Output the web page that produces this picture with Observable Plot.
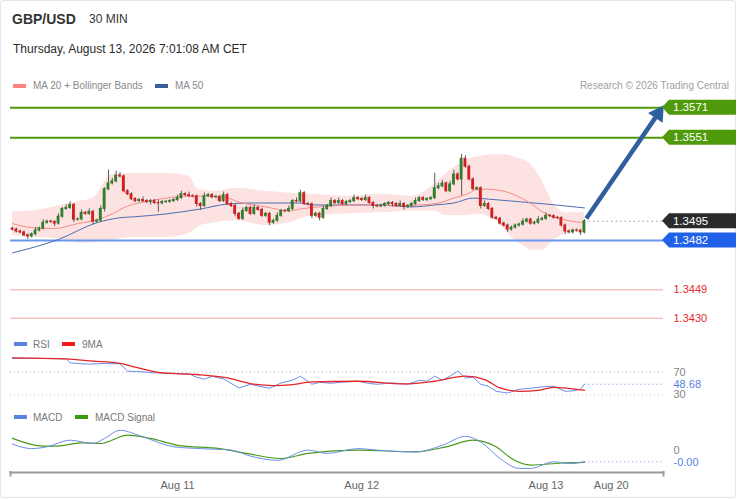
<!DOCTYPE html>
<html><head><meta charset="utf-8">
<script src="https://cdn.jsdelivr.net/npm/d3@7"></script>
<script src="https://cdn.jsdelivr.net/npm/@observablehq/plot@0.6"></script>
<style>
body{margin:0;background:#fff;font-family:"Liberation Sans",Arial,sans-serif;}
#wrap{position:relative;width:738px;height:500px;overflow:hidden;background:#fff;}
#card{position:absolute;left:0;top:0;width:734px;height:496px;border:1px solid #e1e6ea;border-radius:3px;}
.t{position:absolute;white-space:nowrap;line-height:1;}
.sw{position:absolute;width:13px;height:4px;}
.p{position:absolute;left:0;}
</style></head>
<body><div id="wrap"><div id="card"></div>
<div class="t" style="left:12px;top:12px;font-size:14px;font-weight:bold;color:#333">GBP/USD</div>
<div class="t" style="left:89px;top:13px;font-size:12px;color:#333">30 MIN</div>
<div class="t" style="left:13px;top:43px;font-size:12px;color:#2a2a2a">Thursday, August 13, 2026 7:01:08 AM CET</div>
<div class="sw" style="left:13px;top:84px;background:#ff8282"></div>
<div class="t" style="left:33px;top:81px;font-size:10px;color:#8a8a8a">MA 20 + Bollinger Bands</div>
<div class="sw" style="left:155px;top:84px;background:#3a5d9c"></div>
<div class="t" style="left:175px;top:81px;font-size:10px;color:#8a8a8a">MA 50</div>
<div class="t" style="right:9px;top:81px;font-size:10px;color:#a0a0a0">Research © 2026 Trading Central</div>
<div class="sw" style="left:14px;top:342px;background:#5b83e6"></div>
<div class="t" style="left:33px;top:340px;font-size:10px;color:#777">RSI</div>
<div class="sw" style="left:62px;top:342px;background:#ee1c1c"></div>
<div class="t" style="left:82px;top:340px;font-size:10px;color:#777">9MA</div>
<div class="sw" style="left:14px;top:415px;background:#5b83e6"></div>
<div class="t" style="left:33px;top:413px;font-size:10px;color:#777">MACD</div>
<div class="sw" style="left:75px;top:415px;background:#3d9a0a"></div>
<div class="t" style="left:95px;top:413px;font-size:10px;color:#777">MACD Signal</div>
<div id="price" class="p" style="top:95px"></div>
<div id="rsi" class="p" style="top:335px"></div>
<div id="macd" class="p" style="top:405px"></div>
</div>
<script>
// ---- data (30-min candles, Aug 10 02:30 .. Aug 13 05:00) ----
const firstOpen = 1.34900;
const closes = [
1.34894,1.34881,1.34875,1.34855,1.34848,1.34862,1.34888,1.34901,1.34940,1.34947,
1.34945,1.34934,1.34980,1.35032,1.35039,1.35059,1.34960,1.34962,1.35006,1.34999,
1.35013,1.34947,1.34953,1.35032,1.35164,1.35203,1.35217,1.35256,1.35250,1.35151,
1.35131,1.35098,1.35085,1.35092,1.35085,1.35078,1.35085,1.35072,1.35070,1.35078,
1.35080,1.35085,1.35092,1.35105,1.35131,1.35125,1.35118,1.35116,1.35065,1.35052,
1.35118,1.35125,1.35111,1.35113,1.35085,1.35125,1.35065,1.35052,1.34999,1.34966,
1.35019,1.35039,1.34999,1.35039,1.35026,1.34986,1.34999,1.34940,1.34953,1.34986,
1.35019,1.35017,1.35032,1.35085,1.35083,1.35138,1.35065,1.35063,1.34986,1.34999,
1.34973,1.35032,1.35052,1.35085,1.35072,1.35085,1.35065,1.35078,1.35085,1.35105,
1.35098,1.35092,1.35105,1.35072,1.35052,1.35050,1.35054,1.35065,1.35072,1.35065,
1.35052,1.35065,1.35045,1.35052,1.35065,1.35085,1.35105,1.35092,1.35098,1.35105,
1.35171,1.35184,1.35203,1.35151,1.35197,1.35263,1.35230,1.35368,1.35315,1.35230,
1.35164,1.35171,1.35052,1.35065,1.35032,1.34973,1.34966,1.34934,1.34921,1.34894,
1.34907,1.34921,1.34927,1.34947,1.34960,1.34934,1.34940,1.34960,1.34966,1.34986,
1.34984,1.34973,1.34971,1.34921,1.34881,1.34875,1.34888,1.34886,1.34875,1.34950];
// wick lengths beyond the body, in pips
const wickUp = [
1,1,1,1,1,1,2,1,2,1, 1,1,2,1,2,2,1,1,2,1, 2,1,1,2,1,9,2,3,2,1, 1,1,1,1,2,1,1,1,2,1,
1,1,1,2,2,1,2,1,1,1, 2,1,1,1,1,2,1,1,1,1, 2,1,1,2,1,1,1,1,1,2, 1,1,2,1,2,2,1,1,1,1,
1,2,1,2,1,2,1,1,1,2, 1,1,2,1,1,1,1,1,1,1, 1,2,1,1,1,2,1,1,1,1, 10,2,2,1,2,3,1,3,2,1,
1,1,1,2,1,1,1,1,1,1, 1,1,1,2,1,1,1,2,1,2, 1,1,1,1,1,1,1,1,1,1];
const wickDn = [
1,1,1,1,2,1,1,1,1,1, 1,2,1,1,1,1,2,1,1,1, 1,2,1,1,2,1,1,1,1,1, 1,1,1,1,1,1,2,1,6,1,
1,1,1,1,1,1,1,1,2,3, 1,1,1,1,1,1,1,1,2,1, 1,1,1,1,1,1,1,2,1,1, 1,1,1,1,1,1,1,1,2,1,
2,1,1,1,1,1,1,1,1,1, 1,1,1,1,2,1,1,1,1,2, 1,1,2,1,1,1,1,1,1,1, 1,1,1,1,1,1,1,11,1,1,
1,1,2,1,1,1,1,1,1,2, 1,1,1,1,1,1,1,1,1,1, 1,1,1,1,2,1,1,1,2,1];

const ma20Idx = [0,5,11,17,22,26,30,33,40,46,51,56,59,66,72,75,83,91,100,106,111,115,119,121,124,129,134,139,145,149];
const ma20Val = [1.34934,1.34907,1.34901,1.34934,1.34960,1.34999,1.35052,1.35072,1.35105,1.35118,1.35118,1.35105,1.35078,1.35046,1.35019,1.35032,1.35052,1.35059,1.35052,1.35059,1.35072,1.35105,1.35138,1.35164,1.35164,1.35144,1.35085,1.34999,1.34953,1.34940];
const ma50Idx = [0,12,22,28,32,40,49,56,62,75,78,87,96,104,110,115,120,124,130,139,149];
const ma50Val = [1.34738,1.34828,1.34940,1.34973,1.34980,1.34999,1.35032,1.35065,1.35072,1.35072,1.35059,1.35059,1.35059,1.35046,1.35059,1.35072,1.35105,1.35098,1.35085,1.35065,1.35039];
const bbIdx = [0,5,10,14,18,21,26,32,40,46,48,49,53,58,66,72,78,87,96,104,110,113,117,119,122,124,126,129,130,134,135,138,141,144,145,149];
const bbUpper = [1.35013,1.35019,1.35040,1.35065,1.35085,1.35105,1.35263,1.35269,1.35269,1.35250,1.35171,1.35160,1.35151,1.35171,1.35151,1.35138,1.35131,1.35118,1.35131,1.35118,1.35197,1.35269,1.35340,1.35368,1.35385,1.35394,1.35396,1.35394,1.35385,1.35348,1.35330,1.35217,1.35065,1.35006,1.35006,1.35006];
const bbLower = [1.34855,1.34845,1.34835,1.34820,1.34802,1.34805,1.34822,1.34842,1.34842,1.34868,1.34905,1.34921,1.34940,1.34953,1.34921,1.34940,1.34986,1.34999,1.35006,1.35019,1.35019,1.34986,1.34986,1.34990,1.34999,1.34980,1.34953,1.34870,1.34842,1.34770,1.34756,1.34756,1.34822,1.34865,1.34875,1.34888];

const resistances = [1.3571, 1.3551];
const pivot = 1.3482;
const supports = [1.3449, 1.3430];
const target = 1.3571;

const rsiIdx = [0,6,14,15,18,20,24,28,30,34,37,42,46,48,50,52,55,59,62,65,67,70,73,75,78,80,83,86,90,93,95,99,103,106,108,110,112,114,116,118,120,122,124,126,129,132,135,138,141,144,146,148,149];
const rsiVal = [94.4,94.5,93.6,86.5,85,84.2,85.5,84.8,71.8,70.5,68.8,68,67,61,57.6,62.9,58,42.1,48.7,44,41.6,51,56,62.9,48.7,52,50.4,52.5,54,50,48.7,51,48.7,55.8,54,62.9,55.8,63,71.8,59.9,61,48.7,45,36.2,33.2,39.8,41.6,44,45.1,36.2,37,39.8,48.68];
const rsiMaIdx = [0,14,21,28,32,39,48,56,62,68,73,78,90,102,110,118,123,127,132,137,141,149];
const rsiMaVal = [95.4,93.6,89.6,85.5,78.9,68.8,65.9,59.9,49.9,46.4,48.1,52.8,54,49.2,54,62.9,57,42.1,36.2,38,43.3,38];
const rsiLevels = [70, 30];

const macdIdx = [0,5,9,15,21,24,28,34,42,49,57,62,69,77,82,90,95,105,112,118,122,127,132,135,141,145,149];
const macdVal = [0.00027,0.00012,0.00018,0.00040,0.00029,0.00046,0.00073,0.00051,0.00018,0.00012,0.00007,-0.00013,-0.00027,0.00007,-0.00004,0.00012,0.00007,0.00001,0.00023,0.00053,0.00034,-0.00021,-0.00054,-0.00054,-0.00032,-0.00038,-0.00032];
const sigIdx = [0,8,11,18,23,30,36,43,54,61,70,77,90,105,113,120,126,130,135,143,149];
const sigVal = [0.00046,0.00020,0.00020,0.00031,0.00029,0.00057,0.00046,0.00023,0.00012,-0.00004,-0.00021,-0.00004,0.00007,0.00001,0.00018,0.00040,0.00018,-0.00021,-0.00043,-0.00036,-0.00034];

const tickIdx = [43, 91, 139, 156];
const tickLabels = ["Aug 11", "Aug 12", "Aug 13", "Aug 20"];
const xDomain = [-0.52, 169.6];

// ---- tables ----
const candles = closes.map((c, i) => {
  const o = i ? closes[i - 1] : firstOpen;
  return {i, o, c, h: Math.max(o, c) + wickUp[i] * 1e-4, l: Math.min(o, c) - wickDn[i] * 1e-4};
});
const zip = (xs, ys) => xs.map((x, k) => ({i: x, v: ys[k]}));
const ma20 = zip(ma20Idx, ma20Val), ma50 = zip(ma50Idx, ma50Val);
const bb = bbIdx.map((x, k) => ({i: x, hi: bbUpper[k], lo: bbLower[k]}));
const rsi = zip(rsiIdx, rsiVal), rsiMa = zip(rsiMaIdx, rsiMaVal);
const macd = zip(macdIdx, macdVal), sig = zip(sigIdx, sigVal);
const lastI = closes.length - 1, last = closes[lastI];
const lastRsi = rsiVal[rsiVal.length - 1], lastMacd = macdVal[macdVal.length - 1];

const common = {width: 738, marginLeft: 10, marginRight: 75, marginTop: 0, marginBottom: 0,
  x: {domain: xDomain, axis: null, label: null}, style: {fontFamily: "Liberation Sans, Arial, sans-serif", background: "transparent", overflow: "visible"}};
const GREEN = "#2f7f2c", RED = "#d21f1f";
const LBL = {frameAnchor: "right", dx: 10, textAnchor: "start", fontSize: 11};

const price = Plot.plot({
  ...common, height: 235,
  y: {domain: [1.3430, 1.3571], range: [222.7, 12.3], axis: null},
  color: {type: "identity"},
  marks: [
    Plot.areaY(bb, {x: "i", y1: "lo", y2: "hi", fill: "#fde2e2", curve: "monotone-x"}),
    Plot.ruleY(resistances, {stroke: "#4f9a0a", strokeWidth: 2}),
    Plot.ruleY([pivot], {stroke: "#6a96f0", strokeWidth: 2}),
    Plot.ruleY(supports, {stroke: "#f6a4a4", strokeWidth: 1}),
    Plot.ruleY([last], {x1: lastI + 1.2, x2: xDomain[1], stroke: "#999", strokeDasharray: "1.5,3"}),
    Plot.line(ma50, {x: "i", y: "v", stroke: "#4a6fb0", strokeWidth: 1, curve: "monotone-x"}),
    Plot.line(ma20, {x: "i", y: "v", stroke: "#f98a8a", strokeWidth: 1, curve: "monotone-x"}),
    Plot.ruleX(candles, {x: "i", y1: "l", y2: "h", stroke: "#5a5a5a", strokeWidth: 1}),
    Plot.rect(candles, {x1: d => d.i - 0.37, x2: d => d.i + 0.37, y1: "o", y2: "c",
      fill: d => d.c >= d.o ? GREEN : RED, insetTop: -0.5, insetBottom: -0.5}),
    Plot.link([{x1: lastI + 0.5, y1: 1.34968, x2: 168.2, y2: 1.35671}], {x1: "x1", y1: "y1", x2: "x2", y2: "y2", stroke: "#2f5f9e", strokeWidth: 4.5}),
    Plot.dot([{x: 168.2, y: 1.35671}], {x: "x", y: "y", symbol: "triangle", r: 6.5, fill: "#2f5f9e", rotate: 33.5}),
    Plot.text(supports, {y: d => d, text: d => d.toFixed(4), ...LBL, fill: "#e52b2b"})
  ]
});
{
  const svg = d3.select(price), ys = price.scale("y"), xs = price.scale("x");
  const x0 = xs.apply(xDomain[1]) - 1;
  [[resistances[0], "#4f9a0a"], [resistances[1], "#4f9a0a"], [last, "#2b2b2b"], [pivot, "#1f62e8"]].forEach(([v, c]) => {
    const y = ys.apply(v);
    svg.append("path").attr("d", `M${x0},${y}L${x0 + 7},${y - 7.5}H736V${y + 7.5}H${x0 + 7}Z`).attr("fill", c);
    svg.append("text").attr("x", x0 + 11).attr("y", y).attr("dy", "0.36em").attr("fill", "#fff")
      .attr("text-anchor", "start").attr("font-size", 11.5).text(v.toFixed(4));
  });
}
document.getElementById("price").append(price);

const rsiChart = Plot.plot({
  ...common, height: 70,
  y: {domain: [30, 70], range: [59.3, 36.7], axis: null},
  marks: [
    Plot.ruleY(rsiLevels, {stroke: "#b5b5b5", strokeDasharray: "1,3"}),
    Plot.ruleY([lastRsi], {x1: lastI, x2: xDomain[1], stroke: "#9bb3ef", strokeDasharray: "1.5,2.5"}),
    Plot.line(rsi, {x: "i", y: "v", stroke: "#6b8eea", strokeWidth: 1}),
    Plot.line(rsiMa, {x: "i", y: "v", stroke: "#e52525", strokeWidth: 1.3, curve: "monotone-x"}),
    Plot.text(rsiLevels, {y: d => d, text: d => String(d), ...LBL, fill: "#858585"}),
    Plot.text([lastRsi], {y: d => d, text: d => d.toFixed(2), ...LBL, fill: "#5b7fe0"})
  ]
});
document.getElementById("rsi").append(rsiChart);

const macdChart = Plot.plot({
  ...common, height: 95, marginBottom: 28,
  y: {domain: [-0.001, 0.001], range: [76.7, 16.7], axis: null},
  marks: [
    Plot.ruleY([lastMacd], {x1: lastI, x2: xDomain[1], stroke: "#9bb3ef", strokeDasharray: "1.5,2.5"}),
    Plot.line(sig, {x: "i", y: "v", stroke: "#4a9a18", strokeWidth: 1.2, curve: "monotone-x"}),
    Plot.line(macd, {x: "i", y: "v", stroke: "#6b8eea", strokeWidth: 1, curve: "monotone-x"}),
    Plot.text([0], {y: d => d, text: d => String(d), ...LBL, dy: -1.5, fill: "#858585"}),
    Plot.text([lastMacd], {y: d => d, text: d => d.toFixed(2), ...LBL, dy: 0.5, fill: "#5b7fe0"}),
    Plot.frame({anchor: "bottom", stroke: "#9a9a9a", strokeWidth: 1.8}),
    Plot.ruleX(xDomain, {y1: -0.00064, y2: -0.00083, stroke: "#9a9a9a", strokeWidth: 1.8}),
    Plot.axisX(tickIdx, {tickFormat: d => tickLabels[tickIdx.indexOf(d)], tickSize: 0, tickPadding: 9, fontSize: 11, fill: "#666", label: null})
  ]
});
document.getElementById("macd").append(macdChart);
</script>
</body></html>
